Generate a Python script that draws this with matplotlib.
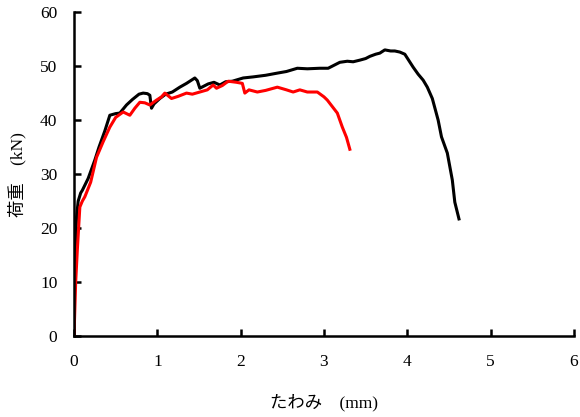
import matplotlib
matplotlib.use("Agg")
import matplotlib.pyplot as plt

# black specimen: deflection (mm) / load (kN)
black_x = [0, 0.005, 0.01, 0.02, 0.03, 0.05, 0.08, 0.1, 0.17, 0.25, 0.3, 0.37, 0.43,
           0.5, 0.55, 0.63, 0.7, 0.78, 0.83, 0.88, 0.91, 0.93, 0.96, 1.03, 1.1, 1.18,
           1.27, 1.35, 1.45, 1.48, 1.51, 1.56, 1.61, 1.68, 1.75, 1.82, 1.9, 2.03, 2.15,
           2.3, 2.44, 2.55, 2.68, 2.8, 2.95, 3.05, 3.19, 3.28, 3.35, 3.43, 3.5, 3.55,
           3.62, 3.67, 3.73, 3.8, 3.85, 3.91, 3.97, 4.02, 4.07, 4.13, 4.19, 4.24, 4.3,
           4.37, 4.41, 4.48, 4.54, 4.57, 4.62]
black_y = [0, 8, 14, 18, 22, 25, 26.5, 27, 29.2, 32.6, 35, 38, 40.9,
           41.2, 41.3, 42.8, 43.8, 44.8, 45, 44.9, 44.6, 42.2, 43, 44, 44.8, 45.2,
           46.1, 46.8, 47.8, 47.3, 45.9, 46.3, 46.7, 47, 46.5, 47.1, 47.2, 47.8, 48,
           48.3, 48.7, 49, 49.6, 49.5, 49.6, 49.6, 50.7, 50.9, 50.8, 51.1, 51.4, 51.8,
           52.2, 52.4, 53, 52.8, 52.8, 52.6, 52.2, 51, 49.8, 48.5, 47.4, 46.1, 44,
           40, 36.9, 33.9, 28.9, 24.8, 21.7]

# red specimen
red_x = [0, 0.01, 0.02, 0.04, 0.07, 0.1, 0.13, 0.2, 0.27, 0.35, 0.43, 0.5, 0.59, 0.67,
         0.73, 0.79, 0.85, 0.91, 0.99, 1.05, 1.09, 1.13, 1.17, 1.25, 1.35, 1.42, 1.51,
         1.6, 1.67, 1.71, 1.78, 1.85, 1.95, 2.02, 2.05, 2.1, 2.2, 2.3, 2.44, 2.55, 2.63,
         2.71, 2.8, 2.92, 3.0, 3.04, 3.1, 3.16, 3.22, 3.27, 3.31]
red_y = [0, 5, 10, 16, 23.9, 25, 25.8, 28.5, 33.1, 36, 38.7, 40.5, 41.5, 40.9,
         42.2, 43.3, 43.2, 42.8, 43.7, 44.3, 45, 44.5, 44, 44.4, 45, 44.8, 45.2,
         45.6, 46.5, 45.9, 46.4, 47.2, 47, 46.8, 45, 45.6, 45.2, 45.5, 46.1, 45.6, 45.2,
         45.6, 45.2, 45.2, 44.3, 43.7, 42.5, 41.3, 38.7, 36.8, 34.6]

fonts = ['Liberation Serif', 'Noto Sans CJK JP']
plt.rcParams['font.family'] = fonts

fig = plt.figure(figsize=(5.8, 4.17), dpi=100)
ax = fig.add_axes([0.1276, 0.194, 0.862, 0.777])

ax.plot(black_x, black_y, color='black', lw=2.2, solid_joinstyle='round')
ax.plot(red_x, red_y, color='red', lw=2.2, solid_joinstyle='round')

ax.set_xlim(0, 6)
ax.set_ylim(0, 60)
ax.set_xticks(range(0, 7))
ax.set_yticks(range(0, 61, 10))

for side in ['top', 'right']:
    ax.spines[side].set_visible(False)
for side in ['left', 'bottom']:
    ax.spines[side].set_linewidth(1.8)

ax.tick_params(axis='both', direction='in', length=5, width=1.8, labelsize=12.5)
ax.tick_params(axis='y', pad=12)
ax.tick_params(axis='x', pad=13)

ax.set_xlabel('たわみ\u3000(mm)', fontsize=12.5, labelpad=17)
ax.set_ylabel('荷重\u3000(kN)', fontsize=12.5, labelpad=10)

fig.savefig('out.png', dpi=100)
